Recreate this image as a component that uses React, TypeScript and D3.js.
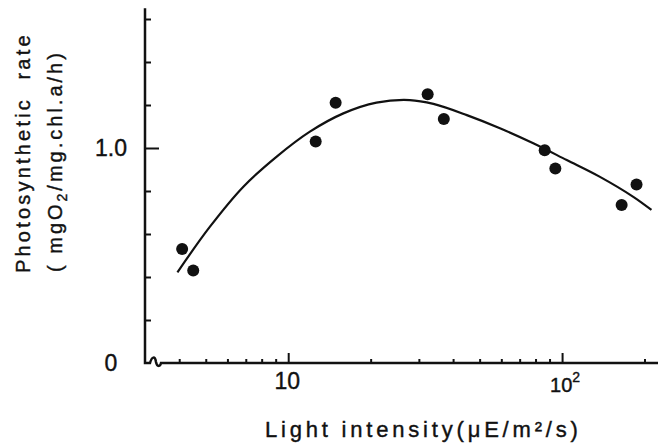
import React, { useEffect, useRef } from "react";
import * as d3 from "d3";

// measured points (light intensity, µE/m²/s  vs  photosynthetic rate)
const lightIntensity = [4.1, 4.5, 12.6, 14.9, 32.3, 37.0, 86.4, 94.5, 165, 187];
const photoRate = [0.53, 0.43, 1.03, 1.21, 1.25, 1.135, 0.99, 0.905, 0.735, 0.83];

// fitted curve
const fitLight = [3.94, 5.18, 6.86, 9.08, 12.0, 15.9, 21.0, 27.8, 33.9, 44.9, 59.3, 78.5, 104, 137, 182, 212];
const fitRate = [0.422, 0.634, 0.82, 0.96, 1.076, 1.161, 1.211, 1.223, 1.205, 1.153, 1.092, 1.022, 0.944, 0.867, 0.773, 0.712];

const xMajorTicks = [10, 100];
const xMinorTicks = [4, 5, 6, 7, 8, 9, 20, 30, 40, 50, 60, 70, 80, 90, 200];
const yMajorTicks = [1.0];
const yMinorTicks = [0.2, 0.4, 0.6, 0.8, 1.2, 1.4, 1.6];
const yLabelValues = [0, 1.0];
const yLabels = ["0", "1.0"];

const W = 658;
const H = 446;
const FONT = "'Liberation Sans', Arial, sans-serif";

export default function App() {
  const ref = useRef<SVGSVGElement>(null);

  useEffect(() => {
    const svg = d3.select(ref.current);
    svg.selectAll("*").remove();

    const x = d3.scaleLog().domain([3, 224]).range([145, 658]);
    const y = d3.scaleLinear().domain([0, 1.65]).range([363, 8.25]);
    const x0 = x.range()[0];
    const y0 = y.range()[0];

    // ticks (pointing inwards)
    const tickAxis = (g, axis) => {
      g.call(axis);
      g.select(".domain").remove();
      g.selectAll("line").attr("stroke", "#111").attr("stroke-width", 2);
      g.selectAll("text").remove();
    };
    svg.append("g").attr("transform", `translate(0,${y0})`)
      .call((g) => tickAxis(g, d3.axisBottom(x).tickValues(xMinorTicks).tickSize(-4)));
    svg.append("g").attr("transform", `translate(0,${y0})`)
      .call((g) => tickAxis(g, d3.axisBottom(x).tickValues(xMajorTicks).tickSize(-10)));
    svg.append("g").attr("transform", `translate(${x0},0)`)
      .call((g) => tickAxis(g, d3.axisLeft(y).tickValues(yMinorTicks).tickSize(-6)));
    svg.append("g").attr("transform", `translate(${x0},0)`)
      .call((g) => tickAxis(g, d3.axisLeft(y).tickValues(yMajorTicks).tickSize(-14)));

    // axis lines, with a small break mark on the x axis
    svg.append("path")
      .attr("d", `M${x0},${y.range()[1]} V${y0} H${x0 + 5} C${x0 + 7},${y0 - 7} ${x0 + 10},${y0 - 7} ${x0 + 11},${y0 - 1} C${x0 + 12},${y0 + 4} ${x0 + 15},${y0 + 4} ${x0 + 16},${y0} H${W}`)
      .attr("fill", "none").attr("stroke", "#111").attr("stroke-width", 2.5);

    // fitted curve
    const fit = fitLight.map((v, i) => [v, fitRate[i]]);
    svg.append("path")
      .attr("d", d3.line().x((d) => x(d[0])).y((d) => y(d[1])).curve(d3.curveCatmullRom.alpha(0.5))(fit))
      .attr("fill", "none").attr("stroke", "#111").attr("stroke-width", 2.2);

    // points
    svg.append("g").selectAll("circle")
      .data(lightIntensity.map((v, i) => [v, photoRate[i]]))
      .enter().append("circle")
      .attr("cx", (d) => x(d[0])).attr("cy", (d) => y(d[1]))
      .attr("r", 6).attr("fill", "#111");

    const txt = (sel) =>
      sel.attr("font-family", FONT).attr("fill", "#111")
        .attr("stroke", "#111").attr("stroke-width", 0.4);

    // y tick labels
    svg.append("g").selectAll("text")
      .data(yLabelValues)
      .enter().append("text")
      .attr("x", 111).attr("y", (d) => y(d) + 8)
      .attr("text-anchor", "middle")
      .attr("font-size", 23)
      .call(txt)
      .text((d, i) => yLabels[i]);

    // x tick labels
    svg.append("text")
      .attr("x", x(10) - 1).attr("y", 389)
      .attr("text-anchor", "middle")
      .attr("font-size", 23)
      .call(txt)
      .text("10");
    const t100 = svg.append("text")
      .attr("x", x(100) + 3).attr("y", 392)
      .attr("text-anchor", "middle")
      .attr("font-size", 20)
      .call(txt);
    t100.append("tspan").text("10");
    t100.append("tspan").attr("dy", -10).attr("font-size", 14).text("2");

    // x title
    svg.append("text")
      .attr("x", 265).attr("y", 437)
      .attr("font-size", 22)
      .attr("letter-spacing", 3.8)
      .call(txt)
      .text("Light intensity(μE/m²/s)");

    // y title (two lines)
    svg.append("text")
      .attr("transform", "translate(30,273) rotate(-90)")
      .attr("font-size", 20)
      .attr("letter-spacing", 3.2)
      .attr("xml:space", "preserve")
      .call(txt)
      .text("Photosynthetic  rate");
    const t2 = svg.append("text")
      .attr("transform", "translate(62,272) rotate(-90)")
      .attr("font-size", 20)
      .attr("letter-spacing", 3)
      .attr("xml:space", "preserve")
      .call(txt);
    t2.append("tspan").text("( mgO");
    t2.append("tspan").attr("dy", 5).attr("font-size", 14).text("2");
    t2.append("tspan").attr("dy", -5).text("/mg.chl.a/h)");
  }, []);

  return (
    <svg
      ref={ref}
      width={W}
      height={H}
      style={{ position: "absolute", left: 0, top: 0, background: "#fff" }}
    />
  );
}
